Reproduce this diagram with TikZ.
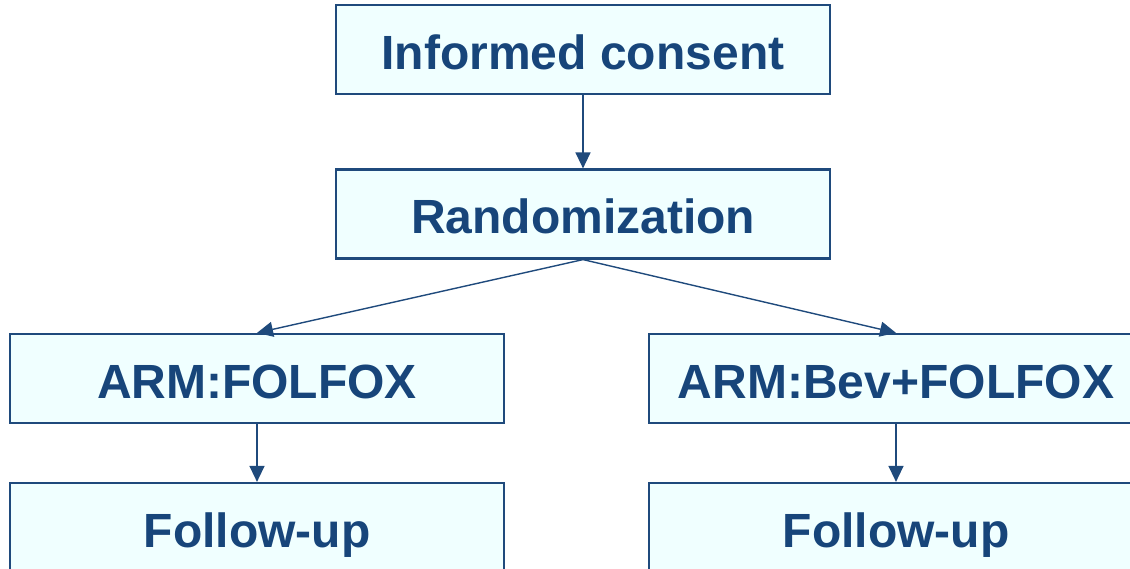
\documentclass[tikz,border=0pt]{standalone}
\usepackage{fontspec}
\setmainfont{Liberation Sans}
\usetikzlibrary{arrows.meta}
\definecolor{boxline}{HTML}{1F4A7C}
\definecolor{boxtext}{HTML}{17457A}
\definecolor{boxfill}{HTML}{F0FFFF}
\begin{document}
\begin{tikzpicture}[
  x=1pt, y=1pt,
  stage/.style={rectangle, draw=boxline, line width=2.2pt, fill=boxfill, text=boxtext,
    minimum width=494pt, minimum height=89pt, inner sep=0pt,
    text height=40pt, text depth=0pt,
    font=\bfseries\fontsize{48}{56}\selectfont},
  flow/.style={-{Triangle[length=16pt,width=15pt]}, draw=boxline, line width=1.4pt}
]
\useasboundingbox (0,0) rectangle (1130,569);
% Main line
\node[stage] (consent) at (583,519.5) {Informed consent};
\node[stage, below of=consent, node distance=164.5pt] (rand) {Randomization};

% Arms
\node[stage, below of=rand, node distance=164.5pt, xshift=-326pt] (armfol) {ARM:FOLFOX};
\node[stage, below of=rand, node distance=164.5pt, xshift=313pt] (armbev) {ARM:Bev+FOLFOX};

% Follow-up
\node[stage, below of=armfol, node distance=149pt] (follow_l) {Follow-up};
\node[stage, below of=armbev, node distance=149pt] (follow_r) {Follow-up};

% Connections
\draw[flow] (consent) -- (rand);
\draw[flow] (rand.south) -- (armfol.north);
\draw[flow] (rand.south) -- (armbev.north);
\draw[flow] (armfol) -- (follow_l);
\draw[flow] (armbev) -- (follow_r);
\end{tikzpicture}
\end{document}
